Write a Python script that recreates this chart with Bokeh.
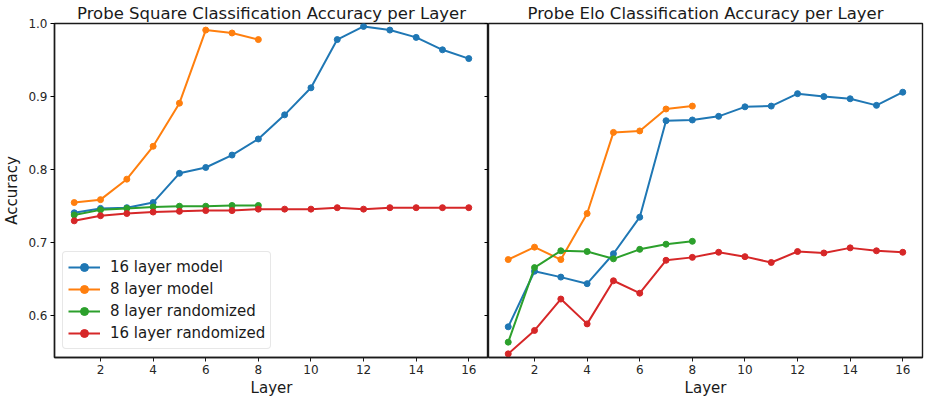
from bokeh.plotting import figure
from bokeh.layouts import row
from bokeh.models import Range1d, FixedTicker, PrintfTickFormatter, LinearAxis, CustomJSTickFormatter
from bokeh.embed import file_html
from bokeh.resources import INLINE

layers16 = list(range(1, 17))
layers8 = list(range(1, 9))

# Probe Square Classification Accuracy
sq_16_model = [0.741, 0.747, 0.748, 0.755, 0.795, 0.803, 0.820, 0.842,
               0.875, 0.912, 0.978, 0.996, 0.991, 0.981, 0.964, 0.952]
sq_8_model = [0.755, 0.759, 0.787, 0.832, 0.891, 0.991, 0.987, 0.978]
sq_8_rand = [0.738, 0.745, 0.747, 0.749, 0.750, 0.750, 0.751, 0.751]
sq_16_rand = [0.730, 0.737, 0.740, 0.742, 0.743, 0.744, 0.744, 0.746,
              0.746, 0.746, 0.748, 0.746, 0.748, 0.748, 0.748, 0.748]

# Probe Elo Classification Accuracy
elo_16_model = [0.585, 0.661, 0.653, 0.644, 0.685, 0.735, 0.867, 0.868,
                0.873, 0.886, 0.887, 0.904, 0.900, 0.897, 0.888, 0.906]
elo_8_model = [0.677, 0.694, 0.677, 0.740, 0.851, 0.853, 0.883, 0.887]
elo_8_rand = [0.564, 0.666, 0.689, 0.688, 0.678, 0.691, 0.698, 0.702]
elo_16_rand = [0.548, 0.580, 0.623, 0.589, 0.648, 0.631, 0.676, 0.680,
               0.687, 0.681, 0.673, 0.688, 0.686, 0.693, 0.689, 0.687]

x_ticks = [2, 4, 6, 8, 10, 12, 14, 16]
y_ticks = [0.6, 0.7, 0.8, 0.9, 1.0]

C_BLUE, C_ORANGE, C_GREEN, C_RED = "#1f77b4", "#ff7f0e", "#2ca02c", "#d62728"
FONT = "DejaVu Sans"
TXT = "#262626"

y_range = Range1d(0.543, 1.0)


def style(p, title):
    p.title.text = title
    p.title.align = "center"
    p.title.text_font = FONT
    p.title.text_font_size = "16.5px"
    p.title.text_font_style = "normal"
    p.title.text_color = "#1a1a1a"
    p.title.offset = 0
    p.title.standoff = 2
    p.outline_line_color = "#1a1a1a"
    p.outline_line_width = 1.4
    p.grid.visible = False
    p.background_fill_color = "white"
    p.border_fill_color = "white"
    ax = p.xaxis[0]
    ax.ticker = FixedTicker(ticks=x_ticks)
    ax.axis_label = "Layer"
    ax.axis_label_text_font = FONT
    ax.axis_label_text_font_size = "15px"
    ax.axis_label_text_font_style = "normal"
    ax.axis_label_text_color = "#1a1a1a"
    ax.axis_label_standoff = 2
    ax.major_label_text_font = FONT
    ax.major_label_text_font_size = "12px"
    ax.major_label_text_color = TXT
    ax.major_label_standoff = 3
    ax.major_tick_out = 4
    ax.major_tick_in = 0
    ax.minor_tick_out = 0
    ax.minor_tick_in = 0
    ax.axis_line_color = "#1a1a1a"
    ax.axis_line_width = 1.4
    ax.major_tick_line_color = "#1a1a1a"


def draw(p, x, y, color, label=None):
    kw = {"legend_label": label} if label else {}
    p.line(x, y, line_color=color, line_width=2, **kw)
    p.scatter(x, y, size=6, fill_color=color, line_color=color, **kw)


p1 = figure(width=488, height=399, x_range=Range1d(0.25, 16.75), y_range=y_range,
            output_backend="svg", toolbar_location=None,
            min_border_left=4, min_border_right=0, min_border_top=4, min_border_bottom=4)
style(p1, "Probe Square Classification Accuracy per Layer")
ay = p1.yaxis[0]
ay.ticker = FixedTicker(ticks=y_ticks)
ay.formatter = PrintfTickFormatter(format="%.1f")
ay.axis_label = "Accuracy"
ay.axis_label_text_font = FONT
ay.axis_label_text_font_size = "15px"
ay.axis_label_text_font_style = "normal"
ay.axis_label_text_color = "#1a1a1a"
ay.axis_label_standoff = 4
ay.major_label_text_font = FONT
ay.major_label_text_font_size = "12px"
ay.major_label_text_color = TXT
ay.major_label_standoff = 3
ay.major_tick_out = 4
ay.major_tick_in = 0
ay.minor_tick_out = 0
ay.minor_tick_in = 0
ay.axis_line_color = "#1a1a1a"
ay.axis_line_width = 1.4

# ticks of the shared y axis at the divider, pointing left
ry = LinearAxis(ticker=FixedTicker(ticks=y_ticks),
                formatter=CustomJSTickFormatter(code="return ''"),
                major_tick_in=4, major_tick_out=0, minor_tick_in=0, minor_tick_out=0,
                major_label_standoff=0, major_label_text_font_size="1px",
                axis_line_color="#1a1a1a", axis_line_width=1.4)
p1.add_layout(ry, "right")

draw(p1, layers16, sq_16_model, C_BLUE, "16 layer model")
draw(p1, layers8, sq_8_model, C_ORANGE, "8 layer model")
draw(p1, layers8, sq_8_rand, C_GREEN, "8 layer randomized")
draw(p1, layers16, sq_16_rand, C_RED, "16 layer randomized")

lg = p1.legend[0]
lg.location = "bottom_left"
lg.margin = 8
lg.padding = 5
lg.spacing = 2
lg.label_text_font = FONT
lg.label_text_font_size = "15px"
lg.label_text_color = "#1a1a1a"
lg.label_standoff = 10
lg.glyph_width = 32
lg.glyph_height = 20
lg.label_height = 20
lg.border_line_color = "#d0d0d0"
lg.border_line_width = 1
lg.border_radius = 4
lg.background_fill_alpha = 0.85

p2 = figure(width=436, height=399, x_range=Range1d(0.25, 16.75), y_range=y_range,
            output_backend="svg", toolbar_location=None, y_axis_location=None,
            min_border_left=0, min_border_right=2, min_border_top=4, min_border_bottom=4)
style(p2, "Probe Elo Classification Accuracy per Layer")

draw(p2, layers16, elo_16_model, C_BLUE)
draw(p2, layers8, elo_8_model, C_ORANGE)
draw(p2, layers8, elo_8_rand, C_GREEN)
draw(p2, layers16, elo_16_rand, C_RED)

layout = row(p1, p2, spacing=0)
open("out.html", "w").write(file_html(layout, INLINE))
